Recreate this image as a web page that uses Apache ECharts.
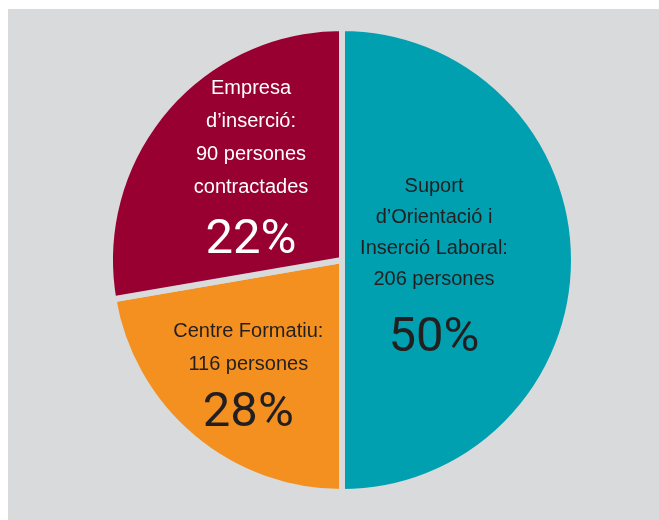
<!DOCTYPE html>
<html>
<head>
<meta charset="utf-8">
<script src="https://cdn.jsdelivr.net/npm/echarts@6/dist/echarts.min.js"></script>
<style>
  html, body { margin: 0; padding: 0; background: #ffffff; }
  #chart { position: absolute; left: 8px; top: 9px; width: 651px; height: 511px; background: #d9dadb; }
</style>
</head>
<body>
<div id="chart"></div>
<script>
// dades del gràfic
const categories = ['Suport d’Orientació i Inserció Laboral', 'Centre Formatiu', 'Empresa d’inserció'];
const labelLines = ['Suport\nd’Orientació i\nInserció Laboral:', 'Centre Formatiu:', 'Empresa\nd’inserció:'];
const persons = [206, 116, 90];
const suffix = ['', '', '\ncontractades'];
const pctLabels = ['50%', '28%', '22%'];
// mida de les llesques tal com es veu al dibuix (no quadra amb els % impresos)
const sliceShare = [50, 22.3, 27.7];

const colors = ['#00a0b0', '#f4901f', '#970031'];
const textColors = ['#231f20', '#231f20', '#ffffff'];
// desplaçament de cada etiqueta respecte del punt mig de la llesca
const labelShift = [[-27, 17], [-17, 30], [0, -9]];
const lineGap = [31, 33, 33];
const pctGap = [88, 65, 73];

const chart = echarts.init(document.getElementById('chart'));

chart.setOption({
  animation: false,
  series: [
    {
      type: 'pie',
      center: [334, 251],
      radius: 232,
      startAngle: 90,
      clockwise: true,
      avoidLabelOverlap: false,
      itemStyle: { borderColor: '#d9dadb', borderWidth: 6 },
      labelLine: { show: false },
      data: categories.map((c, i) => ({
        name: c,
        value: sliceShare[i],
        itemStyle: { color: colors[i] },
        label: {
          color: textColors[i],
          rich: {
            t: { fontFamily: 'Liberation Sans', fontSize: 20, lineHeight: lineGap[i], color: textColors[i] },
            p: { fontFamily: 'Roboto', fontSize: 49, lineHeight: pctGap[i], color: textColors[i] }
          }
        }
      })),
      label: {
        show: true,
        position: 'inside',
        align: 'center',
        formatter: (p) => {
          const i = p.dataIndex;
          return '{t|' + labelLines[i] + '\n' + persons[i] + ' persones' + suffix[i] + '}\n{p|' + pctLabels[i] + '}';
        }
      },
      labelLayout: (params) => ({
        dx: labelShift[params.dataIndex][0],
        dy: labelShift[params.dataIndex][1]
      })
    }
  ]
});
</script>
</body>
</html>
